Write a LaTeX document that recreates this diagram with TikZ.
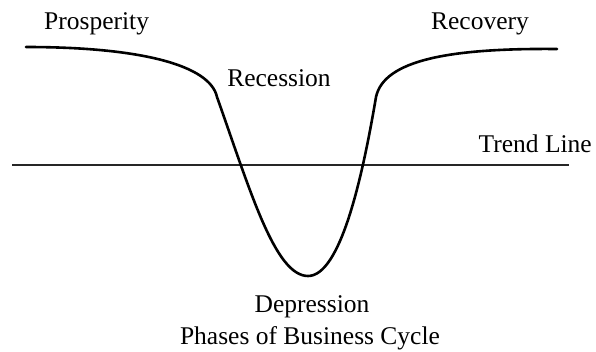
\documentclass[tikz,border=0pt]{standalone}
\usepackage{fontspec}
\setmainfont{Liberation Serif}
\begin{document}
\begin{tikzpicture}[x=1pt,y=-1pt,
  lbl/.style={font=\fontsize{25.5}{28}\selectfont, inner sep=0pt, text=black},
  cycle/.style={line width=2.6pt, black, line cap=round, line join=round},
  trend/.style={line width=1.1pt, black!85}]
\useasboundingbox (0,0) rectangle (596,351);
\coordinate (s) at (26,47);
\coordinate (k1) at (217,97);
\coordinate (b) at (308,276);
\coordinate (k2) at (376,97);
\coordinate (e) at (557,49);
\coordinate (tl) at (12,165);
\coordinate (tr) at (569,165);
\draw[trend] (tl) -- (tr);
\draw[cycle] (s) .. controls (140,47) and (210,65) .. (k1)
  .. controls (250,190) and (275,276) .. (b)
  .. controls (340,276) and (362,180) .. (k2)
  .. controls (384,60) and (450,48) .. (e);
\node[lbl, anchor=base west] (pros) at (44,29) {Prosperity};
\node[lbl, anchor=base] (reco) at (480,29) {Recovery};
\node[lbl, anchor=base] (rece) at (279,86) {Recession};
\node[lbl, anchor=base east] (trl) at (592,152) {Trend Line};
\node[lbl, anchor=base] (dep) at (312,312) {Depression};
\node[lbl, anchor=base] (cap) at (310,344) {Phases of Business Cycle};
\end{tikzpicture}
\end{document}
